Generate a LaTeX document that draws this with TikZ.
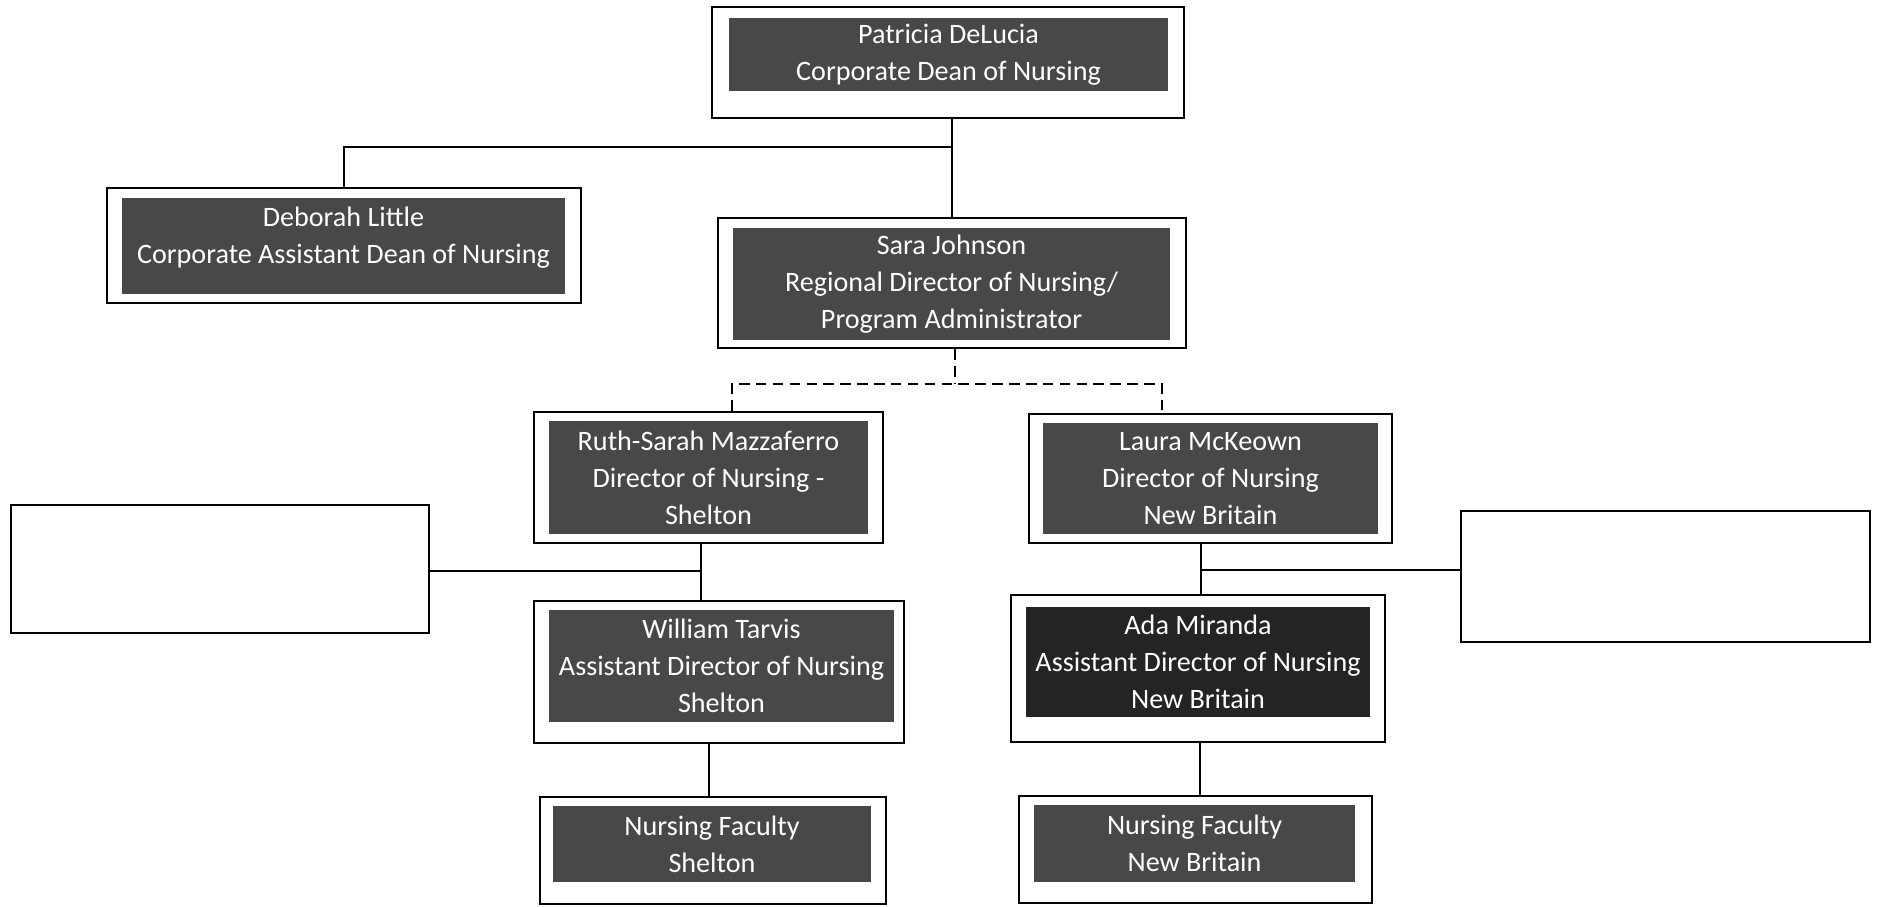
\documentclass[tikz,border=0pt]{standalone}
\usepackage{fontspec}
\setmainfont{Carlito}
\usepackage{tikz}
\usetikzlibrary{fit,calc}
\definecolor{plategray}{RGB}{72,72,72}
\definecolor{plateblack}{RGB}{36,36,36}
\tikzset{
  orgbox/.style={draw, line width=0.7pt, fill=white, inner sep=0pt},   % white frame
  plate/.style={fill=plategray, text=white, inner sep=0pt, align=center,
                font=\fontsize{8}{10.5}\selectfont},                   % dark name plate
  link/.style={line width=0.6pt},
  dashlink/.style={line width=0.6pt, dash pattern=on 3pt off 1.8pt}
}

\begin{document}
\begin{tikzpicture}[x=0.01cm, y=-0.01cm]
  \useasboundingbox (0,0) rectangle (1880,906);
  % frames
  \node[orgbox, fit={(712,7) (1184,118)}] (dean) {};
  \node[orgbox, fit={(107,188) (581,303)}] (asstdean) {};
  \node[orgbox, fit={(718,218) (1186,348)}] (regdir) {};
  \node[orgbox, fit={(534,412) (883,543)}] (dirshel) {};
  \node[orgbox, fit={(1029,414) (1392,543)}] (dirnb) {};
  \node[orgbox, fit={(11,505) (429,633)}] (blankL) {};
  \node[orgbox, fit={(1461,511) (1870,642)}] (blankR) {};
  \node[orgbox, fit={(534,601) (904,743)}] (adshel) {};
  \node[orgbox, fit={(1011,595) (1385,742)}] (adnb) {};
  \node[orgbox, fit={(540,797) (886,904)}] (facshel) {};
  \node[orgbox, fit={(1019,796) (1372,903)}] (facnb) {};
  % name plates
  \node[plate, minimum width=4.39cm, minimum height=0.73cm] (dean-p) at (948.5,54.5)
    {Patricia DeLucia\\Corporate Dean of Nursing};
  \node[plate, minimum width=4.43cm, minimum height=0.96cm, text depth=6pt] (asstdean-p) at (343.5,246)
    {Deborah Little\\Corporate Assistant Dean of Nursing};
  \node[plate, minimum width=4.37cm, minimum height=1.12cm] (regdir-p) at (951.5,284)
    {Sara Johnson\\Regional Director of Nursing/\\Program Administrator};
  \node[plate, minimum width=3.19cm, minimum height=1.13cm] (dirshel-p) at (708.5,477.5)
    {Ruth-Sarah Mazzaferro\\Director of Nursing -\\Shelton};
  \node[plate, minimum width=3.35cm, minimum height=1.11cm] (dirnb-p) at (1210.5,478.5)
    {Laura McKeown\\Director of Nursing\\New Britain};
  \node[plate, minimum width=3.45cm, minimum height=1.12cm] (adshel-p) at (721.5,666)
    {William Tarvis\\Assistant Director of Nursing\\Shelton};
  \node[plate, fill=plateblack, minimum width=3.44cm, minimum height=1.10cm] (adnb-p) at (1198,662)
    {Ada Miranda\\Assistant Director of Nursing\\New Britain};
  \node[plate, minimum width=3.18cm, minimum height=0.76cm] (facshel-p) at (712,844)
    {Nursing Faculty\\Shelton};
  \node[plate, minimum width=3.21cm, minimum height=0.77cm] (facnb-p) at (1194.5,843.5)
    {Nursing Faculty\\New Britain};
  % connectors
  \coordinate (jTop) at (952,147);
  \draw[link] (dean.south -| jTop) -- (regdir.north -| jTop);
  \draw[link] (jTop) -| (asstdean.north);
  \coordinate (jMid) at (955,384);
  \coordinate (jShel) at (732,384);
  \coordinate (jNB) at (1162,384);
  \draw[dashlink] (regdir.south -| jMid) -- (jMid);
  \draw[dashlink] (dirshel.north -| jShel) |- (jNB) -- (dirnb.north -| jNB);
  \coordinate (kShel) at (701,571);
  \draw[link] (dirshel.south -| kShel) -- (adshel.north -| kShel);
  \draw[link] (blankL.east |- kShel) -- (kShel);
  \coordinate (kNB) at (1201,570);
  \draw[link] (dirnb.south -| kNB) -- (adnb.north -| kNB);
  \draw[link] (kNB) -- (blankR.west |- kNB);
  \coordinate (mShel) at (709,770);
  \draw[link] (adshel.south -| mShel) -- (facshel.north -| mShel);
  \coordinate (mNB) at (1200,770);
  \draw[link] (adnb.south -| mNB) -- (facnb.north -| mNB);
\end{tikzpicture}
\end{document}
